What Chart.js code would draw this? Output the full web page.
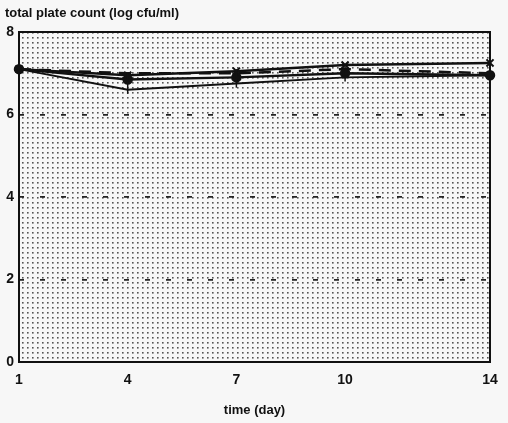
<!DOCTYPE html>
<html>
<head>
<meta charset="utf-8">
<script src="https://cdn.jsdelivr.net/npm/chart.js@4/dist/chart.umd.min.js"></script>
<style>
  html, body { margin: 0; padding: 0; background: #f7f7f7; }
  #wrap { width: 508px; height: 423px; }
</style>
</head>
<body>
<div id="wrap"><canvas id="plateChart" width="508" height="423"></canvas></div>
<script>
const days = [1, 4, 7, 10, 14];
const xTicks = [1, 4, 7, 10, 14];
const yTicks = [0, 2, 4, 6, 8];

// log cfu/ml
const seriesStar = [7.1, 6.95, 7.05, 7.2, 7.25];
const seriesDash = [7.1, 7.0, 7.0, 7.1, 7.0];
const seriesDot = [7.1, 6.85, 6.9, 7.0, 6.95];
const seriesLow = [7.1, 6.6, 6.75, 6.9, 6.95];

const errDays = [4, 7, 10];
const errTop = [7.0, 7.1, 7.15];
const errBottom = [6.5, 6.65, 6.8];

const toPoints = (vals) => vals.map((v, i) => ({ x: days[i], y: v }));

// dotted paper inside the frame
const dots = document.createElement('canvas');
dots.width = 5;
dots.height = 5;
const dctx = dots.getContext('2d');
dctx.fillStyle = '#555';
dctx.fillRect(2, 2, 1.6, 1.6);

const paper = {
    id: 'paper',
    beforeDraw(chart) {
        const { ctx, chartArea: a } = chart;
        ctx.save();
        ctx.fillStyle = '#f7f7f7';
        ctx.fillRect(0, 0, chart.width, chart.height);
        ctx.fillStyle = ctx.createPattern(dots, 'repeat');
        ctx.fillRect(a.left, a.top, a.right - a.left, a.bottom - a.top);
        ctx.restore();
    },
    afterDatasetsDraw(chart) {
        const { ctx, chartArea: a, scales } = chart;
        ctx.save();
        ctx.strokeStyle = '#111';
        ctx.lineWidth = 1.5;
        errDays.forEach((d, i) => {
            const x = scales.x.getPixelForValue(d);
            ctx.beginPath();
            ctx.moveTo(x, scales.y.getPixelForValue(errTop[i]));
            ctx.lineTo(x, scales.y.getPixelForValue(errBottom[i]));
            ctx.stroke();
        });
        ctx.lineWidth = 2;
        ctx.strokeRect(a.left, a.top, a.right - a.left, a.bottom - a.top);
        ctx.fillStyle = '#111';
        ctx.font = 'bold 13px "Liberation Sans", Arial, sans-serif';
        ctx.textBaseline = 'middle';
        ctx.textAlign = 'left';
        ctx.fillText('total plate count (log cfu/ml)', 5, 13);
        ctx.restore();
    }
};

const tickFont = { family: '"Liberation Sans", Arial, sans-serif', size: 14, weight: 'bold' };

new Chart(document.getElementById('plateChart'), {
    type: 'line',
    data: {
        datasets: [
            {
                data: toPoints(seriesStar),
                borderColor: '#111', borderWidth: 2.5, clip: false,
                pointStyle: 'crossRot', pointRadius: 5, pointBorderWidth: 2,
                pointBorderColor: '#111', pointBackgroundColor: '#111'
            },
            {
                data: toPoints(seriesDash),
                borderColor: '#111', borderWidth: 2.5, borderDash: [12, 8], clip: false,
                pointRadius: 0
            },
            {
                data: toPoints(seriesDot),
                borderColor: '#111', borderWidth: 2.5, clip: false,
                pointStyle: 'circle', pointRadius: 4,
                pointBorderColor: '#111', pointBackgroundColor: '#111'
            },
            {
                data: toPoints(seriesLow),
                borderColor: '#111', borderWidth: 2, clip: false,
                pointRadius: 0
            }
        ]
    },
    options: {
        responsive: false,
        animation: false,
        layout: { padding: { top: 32, right: 18, left: 0, bottom: 0 } },
        plugins: { legend: { display: false }, tooltip: { enabled: false } },
        scales: {
            x: {
                type: 'linear',
                min: 1,
                max: 14,
                afterBuildTicks: (s) => { s.ticks = xTicks.map(v => ({ value: v })); },
                afterFit: (s) => { s.height = 61; },
                grid: { display: false },
                border: { display: false },
                ticks: { color: '#111', font: tickFont, padding: 2, maxRotation: 0 },
                title: {
                    display: true,
                    text: 'time (day)',
                    color: '#111',
                    font: { family: '"Liberation Sans", Arial, sans-serif', size: 13, weight: 'bold' },
                    padding: { top: 0, bottom: 5 }
                }
            },
            y: {
                min: 0,
                max: 8,
                afterBuildTicks: (s) => { s.ticks = yTicks.map(v => ({ value: v })); },
                afterFit: (s) => { s.width = 19; },
                border: { display: false, dash: [5, 16] },
                grid: {
                    drawTicks: false,
                    color: (c) => (c.tick && c.tick.value > 0 && c.tick.value < 8) ? '#222' : 'rgba(0,0,0,0)',
                    lineWidth: 1.8
                },
                ticks: { color: '#111', font: tickFont, padding: 5 }
            }
        }
    },
    plugins: [paper]
});
</script>
</body>
</html>
